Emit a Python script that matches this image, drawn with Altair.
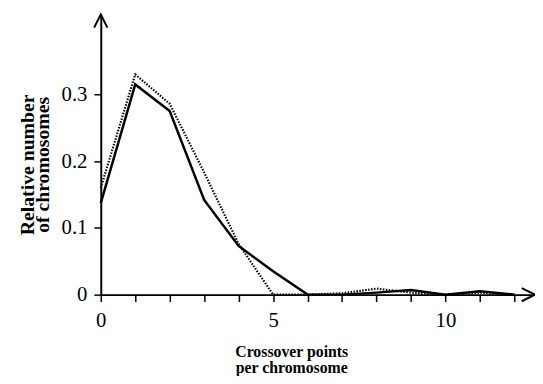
import altair as alt
import pandas as pd

# Data
x_values = list(range(0, 13))
solid_values = [0.137, 0.315, 0.275, 0.142, 0.073, 0.035, 0.0, 0.0, 0.003, 0.007, 0.0, 0.005, 0.0]
dotted_values = [0.160, 0.330, 0.286, 0.183, 0.076, 0.0, 0.0, 0.002, 0.009, 0.003, 0.0, 0.003, 0.0]

x_ticks = list(range(0, 13))
x_tick_labels = ["0", "5", "10"]
y_ticks = [0, 0.1, 0.2, 0.3]
y_tick_labels = ["0", "0.1", "0.2", "0.3"]

x_max = 12.6
y_max = 0.42

FONT = "Liberation Serif"

solid_df = pd.DataFrame({"x": x_values, "y": solid_values})
dotted_df = pd.DataFrame({"x": x_values, "y": dotted_values})

x_label_expr = "indexof([" + ",".join("'" + s + "'" for s in x_tick_labels) + "], datum.label) >= 0 ? datum.label : ''"
y_label_expr = "[" + ",".join("'" + s + "'" for s in y_tick_labels) + "][round(datum.value * 10)]"

x_enc = alt.X(
    "x:Q",
    scale=alt.Scale(domain=[0, x_max], nice=False, zero=False),
    axis=alt.Axis(
        values=x_ticks,
        labelExpr=x_label_expr,
        title=["Crossover  points", "per  chromosome"],
        titleX=193,
        titleY=58,
        titleAlign="center",
        titleBaseline="middle",
        titleFont=FONT,
        titleFontSize=16,
        titleFontWeight="bold",
        titleLineHeight=16,
        titleColor="black",
        labelFont=FONT,
        labelFontSize=21,
        labelColor="black",
        labelPadding=8,
        tickSize=7,
        tickWidth=1.5,
        tickColor="black",
        domainColor="black",
        domainWidth=2,
        grid=False,
        labelOverlap=False,
        labelFlush=False,
    ),
)

y_enc = alt.Y(
    "y:Q",
    scale=alt.Scale(domain=[0, y_max], nice=False, zero=True),
    axis=alt.Axis(
        values=y_ticks,
        labelExpr=y_label_expr,
        title=["Relative  number", "of  chromosomes"],
        titleX=-74,
        titleY=152,
        titleAngle=270,
        titleAlign="center",
        titleBaseline="middle",
        titleFont=FONT,
        titleFontSize=20,
        titleFontWeight="bold",
        titleLineHeight=15,
        titleColor="black",
        labelFont=FONT,
        labelFontSize=21,
        labelColor="black",
        labelPadding=7,
        tickSize=7,
        tickWidth=1.5,
        tickColor="black",
        domainColor="black",
        domainWidth=2,
        grid=False,
        labelOverlap=False,
        labelFlush=False,
    ),
)

solid = alt.Chart(solid_df).mark_line(color="black", strokeWidth=2.5).encode(x=x_enc, y=y_enc)
dotted = alt.Chart(dotted_df).mark_line(
    color="black", strokeWidth=2.2, strokeDash=[1.5, 1.5]
).encode(x=x_enc, y=y_enc)

arrow_df_y = pd.DataFrame({"x": [0], "y": [y_max]})
arrow_df_x = pd.DataFrame({"x": [x_max], "y": [0]})

arrow_y = alt.Chart(arrow_df_y).mark_point(
    shape="M-1,2L0,0L1,2", filled=False, stroke="black", strokeWidth=2, size=180, opacity=1, clip=False
).encode(x=x_enc, y=y_enc)
arrow_x = alt.Chart(arrow_df_x).mark_point(
    shape="M-2,-1L0,0L-2,1", filled=False, stroke="black", strokeWidth=2, size=180, opacity=1, clip=False
).encode(x=x_enc, y=y_enc)

chart = (
    alt.layer(solid, dotted, arrow_y, arrow_x)
    .properties(
        width=440,
        height=284,
        autosize=alt.AutoSizeParams(type="none"),
        padding={"left": 94, "top": 4, "right": 0, "bottom": 80},
        background="white",
    )
    .configure_view(stroke=None)
)

chart.save("out.html", embed_options={"renderer": "svg", "actions": False})
